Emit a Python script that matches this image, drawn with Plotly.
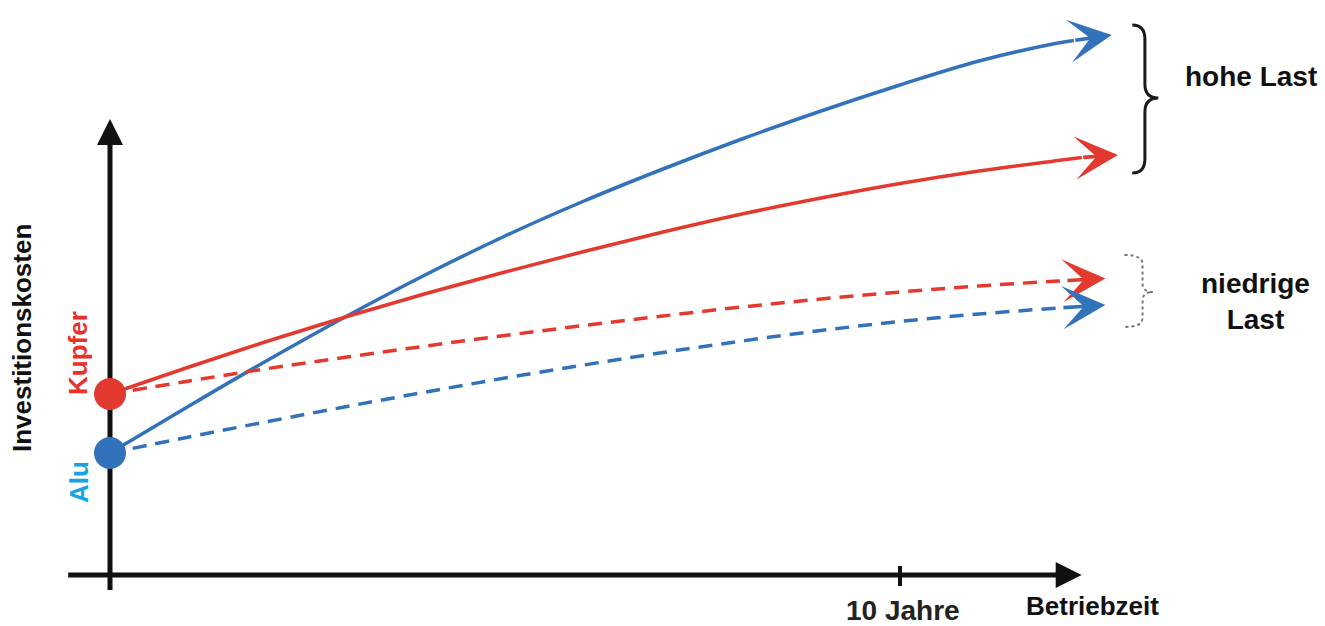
import plotly.graph_objects as go

# ---------------- data ----------------
# x = operating time in years, y = investment cost (arbitrary units)
years_alu_hoch = [0, 1, 2, 3, 4, 5, 6, 7, 8, 9, 10, 11, 12, 12.2]
cost_alu_hoch = [12.2, 16.9, 21.5, 25.9, 30.05, 33.9, 37.4, 40.6, 43.6, 46.4, 49.0, 51.4, 53.2, 53.45]
tip_alu_hoch = (12.68, 54.0)

years_cu_hoch = [0, 1, 2, 3, 4, 5, 6, 7, 8, 9, 10, 11, 12, 12.3]
cost_cu_hoch = [18.1, 20.8, 23.4, 25.85, 28.15, 30.3, 32.35, 34.3, 36.1, 37.7, 39.15, 40.4, 41.45, 41.75]
tip_cu_hoch = (12.76, 42.0)

years_cu_niedrig = [0, 1, 2, 3, 4, 5, 6, 7, 8, 9, 10, 11, 12, 12.1]
cost_cu_niedrig = [18.1, 19.4, 20.65, 21.8, 22.9, 23.95, 24.95, 25.9, 26.8, 27.6, 28.3, 28.9, 29.4, 29.44]
tip_cu_niedrig = (12.6, 29.64)

years_alu_niedrig = [0, 1, 2, 3, 4, 5, 6, 7, 8, 9, 10, 11, 12, 12.05]
cost_alu_niedrig = [12.2, 13.8, 15.35, 16.85, 18.3, 19.7, 21.0, 22.25, 23.4, 24.45, 25.35, 26.1, 26.7, 26.73]
tip_alu_niedrig = (12.6, 27.0)

start_cost_kupfer = 18.1
start_cost_alu = 12.2

tick_year = 10
tick_label = "10 Jahre"

# ---------------- styling ----------------
RED = "#e3392f"
BLUE = "#3272bb"
KUPFER_TXT = "#e8312a"
ALU_TXT = "#12a4e4"
BLACK = "#111111"
FONT = "Liberation Sans, Arial, sans-serif"

W, H = 1325, 626
X_RANGE = [-110 / 79, 1215 / 79]
Y_RANGE = [-5.1, 57.5]


def px(xp):
    return xp / W


def py(yp):
    return 1 - yp / H


fig = go.Figure()

series = [
    (years_alu_hoch, cost_alu_hoch, tip_alu_hoch, BLUE, "solid", "Alu, hohe Last"),
    (years_cu_hoch, cost_cu_hoch, tip_cu_hoch, RED, "solid", "Kupfer, hohe Last"),
    (years_cu_niedrig, cost_cu_niedrig, tip_cu_niedrig, RED, "14px,9px", "Kupfer, niedrige Last"),
    (years_alu_niedrig, cost_alu_niedrig, tip_alu_niedrig, BLUE, "14px,9px", "Alu, niedrige Last"),
]

annotations = []
for xs, ys, tip, col, dash, name in series:
    fig.add_trace(go.Scatter(
        x=xs, y=ys, mode="lines", name=name,
        line=dict(color=col, width=3.5, dash=dash, shape="spline", smoothing=1.0),
        hoverinfo="skip", showlegend=False,
    ))
    annotations.append(dict(
        x=tip[0], y=tip[1], xref="x", yref="y",
        ax=xs[-1], ay=ys[-1], axref="x", ayref="y",
        showarrow=True, arrowhead=3, arrowsize=2.0, arrowwidth=3.6,
        arrowcolor=col, text="",
    ))

# start dots
fig.add_trace(go.Scatter(
    x=[0, 0], y=[start_cost_kupfer, start_cost_alu], mode="markers",
    marker=dict(size=32, color=[RED, BLUE], line=dict(width=0)),
    hoverinfo="skip", showlegend=False,
))

# axes drawn as arrows
x_axis_start, x_axis_tip = -0.53, 12.30
y_axis_start, y_axis_tip = -1.5, 45.6
shapes = [
    dict(type="line", xref="x", yref="y", x0=x_axis_start, y0=0, x1=x_axis_tip - 0.2, y1=0,
         line=dict(color=BLACK, width=5), layer="below"),
    dict(type="line", xref="x", yref="y", x0=0, y0=y_axis_start, x1=0, y1=y_axis_tip - 2,
         line=dict(color=BLACK, width=5), layer="below"),
    dict(type="line", xref="x", yref="y", x0=tick_year, y0=0.9, x1=tick_year, y1=-1.1,
         line=dict(color=BLACK, width=4), layer="below"),
]
annotations.append(dict(
    x=x_axis_tip, y=0, xref="x", yref="y", ax=x_axis_tip - 0.35, ay=0, axref="x", ayref="y",
    showarrow=True, arrowhead=2, arrowsize=1.0, arrowwidth=5.2, arrowcolor=BLACK, text=""))
annotations.append(dict(
    x=0, y=y_axis_tip, xref="x", yref="y", ax=0, ay=y_axis_tip - 2.8, axref="x", ayref="y",
    showarrow=True, arrowhead=2, arrowsize=1.0, arrowwidth=5.2, arrowcolor=BLACK, text=""))


def brace_path(x0, xv, xp, ytop, ybot, ymid, h):
    return (f"M{x0},{ytop} Q{xv},{ytop} {xv},{ytop - h} "
            f"L{xv},{ymid + h} Q{xv},{ymid} {xp},{ymid} "
            f"Q{xv},{ymid} {xv},{ymid - h} "
            f"L{xv},{ybot + h} Q{xv},{ybot} {x0},{ybot}")


shapes.append(dict(type="path", xref="x", yref="y",
                   path=brace_path(12.94, 13.10, 13.27, 55.0, 40.2, 47.7, 1.4),
                   line=dict(color="#1a1a1a", width=3)))
shapes.append(dict(type="path", xref="x", yref="y",
                   path=brace_path(12.84, 13.07, 13.20, 32.0, 24.8, 28.3, 0.9),
                   line=dict(color="#777777", width=2, dash="dot")))

# texts
def txt(text, xp_, yp_, size, color=BLACK, angle=0):
    annotations.append(dict(
        text=text, x=px(xp_), y=py(yp_), xref="paper", yref="paper",
        xanchor="center", yanchor="middle", showarrow=False, textangle=angle,
        font=dict(family=FONT, size=size, color=color)))


txt("<b>Investitionskosten</b>", 22, 338, 26, angle=-90)
txt("<b>Kupfer</b>", 78, 353, 26, KUPFER_TXT, angle=-90)
txt("<b>Alu</b>", 79, 482, 26, ALU_TXT, angle=-90)
txt("<b>" + tick_label + "</b>", 903, 610, 28, "#222222")
txt("<b>Betriebzeit</b>", 1092, 606, 26)
txt("<b>hohe Last</b>", 1251, 76, 28)
txt("<b>niedrige<br>Last</b>", 1255, 302, 28)

fig.update_layout(
    width=W, height=H, margin=dict(l=0, r=0, t=0, b=0),
    paper_bgcolor="white", plot_bgcolor="white",
    xaxis=dict(range=X_RANGE, visible=False, fixedrange=True),
    yaxis=dict(range=Y_RANGE, visible=False, fixedrange=True),
    shapes=shapes, annotations=annotations, showlegend=False,
)

fig.write_html(
    "out.html",
    config={"displayModeBar": False},
    post_script="document.body.style.margin='0';document.body.style.overflow='hidden';",
)
